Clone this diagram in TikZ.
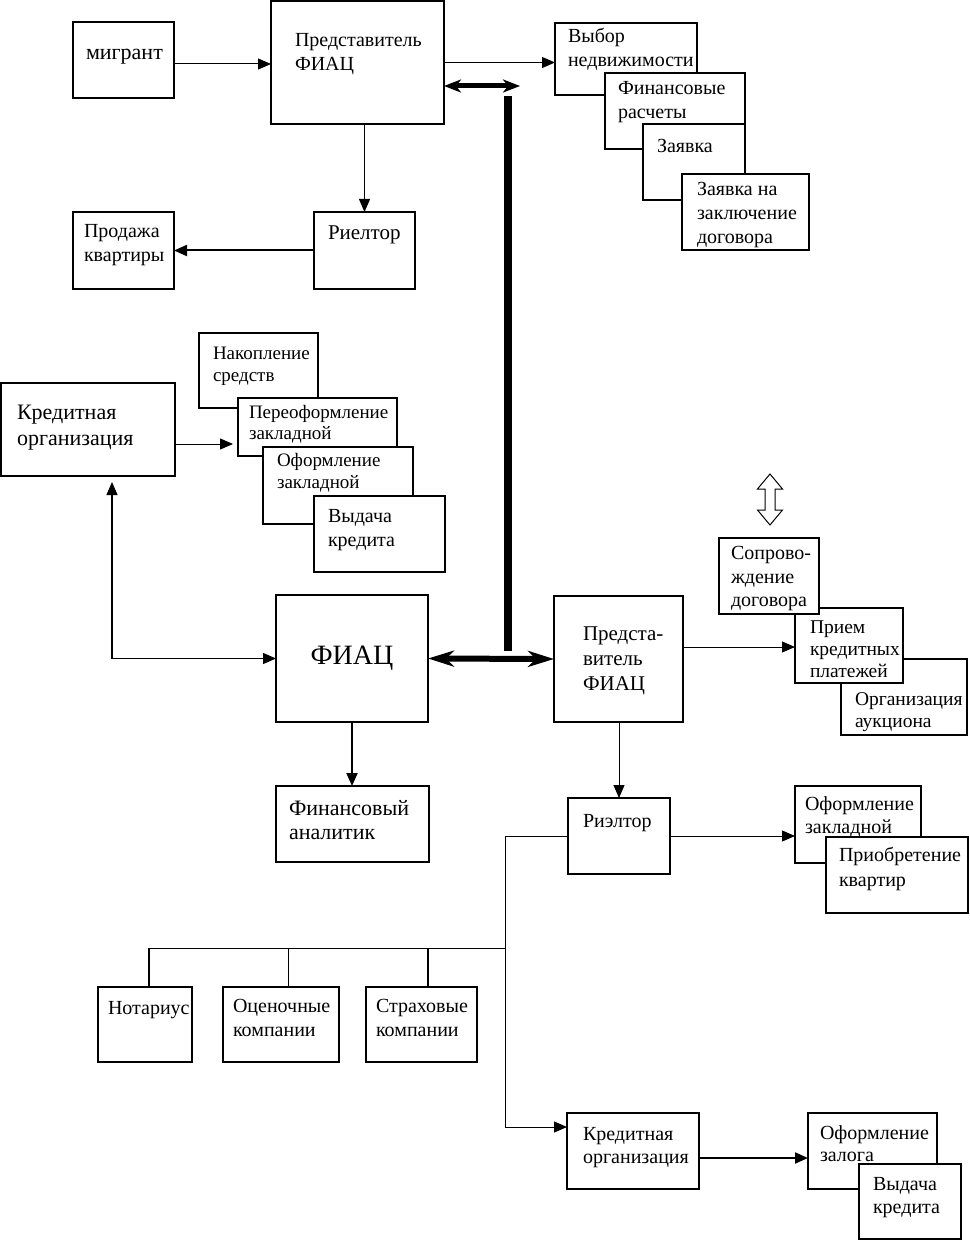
\documentclass[tikz,border=0pt]{standalone}
\usepackage{fontspec}
\setmainfont{Liberation Serif}
\usetikzlibrary{arrows.meta,calc}
\tikzset{
  bx/.style={draw, line width=1.3pt, fill=white, inner sep=0pt, outer sep=0pt, anchor=north west},
  txt/.style={inner sep=0pt, outer sep=0pt, anchor=north west, align=left, font=\fontsize{20}{24}\selectfont, execute at begin node=\strut},
  conn/.style={line width=1pt, -{Triangle[length=13pt,width=11pt]}},
  connb/.style={line width=2pt, -{Triangle[length=13pt,width=11pt]}},
  conntwo/.style={line width=1.2pt, {Triangle[length=13pt,width=11pt]}-{Triangle[length=13pt,width=11pt]}},
  plain/.style={line width=1pt},
  fat/.style={line width=6pt, {Stealth[length=26pt,width=16pt,inset=8pt]}-{Stealth[length=26pt,width=16pt,inset=8pt]}},
  fattop/.style={line width=5pt, {Stealth[length=17pt,width=13pt,inset=5pt]}-{Stealth[length=17pt,width=13pt,inset=5pt]}},
  bar/.style={line width=8pt},
  hollow/.style={line width=1pt, fill=white},
}
\newcommand\B[6][]{\node[bx,#1,minimum width={(#5-#3)*1pt},minimum height={(#6-#4)*1pt}] (#2) at (#3,#4) {};}
\newcommand\X[5][]{\node[txt,#1] (#2) at (#3,#4) {#5};}
\begin{document}
\begin{tikzpicture}[x=1pt,y=-1pt]
\useasboundingbox[fill=white] (0,0) rectangle (969,1241);

% ---- top group
\B[line width=1.6pt]{A}{73}{22}{174}{98}
\X[font=\fontsize{22}{26}\selectfont]{At}{86}{60-18.2}{мигрант}
\B{B}{271}{1}{444}{124}
\X{Bt}{295}{50-16.8}{Представитель\\ФИАЦ}
\B{C}{555}{23}{697}{95}
\X{Ct}{568}{45-16.8}{Выбор\\недвижимости}
\B{D}{605}{73}{745}{149}
\X{Dt}{618}{98-16.8}{Финансовые\\расчеты}
\B{E}{643}{124}{745}{200}
\X{Et}{657}{153-16.8}{Заявка}
\B[line width=1.8pt]{F}{682}{174}{809}{250}
\X{Ft}{697}{199-16.8}{Заявка на\\заключение\\договора}
\B{G}{314}{212}{415}{289}
\X[font=\fontsize{21}{24}\selectfont]{Gt}{328}{240-16.8}{Риелтор}
\B[line width=1.6pt]{H}{73}{212}{174}{289}
\X{Ht}{84}{241-16.8}{Продажа\\квартиры}

% ---- middle left
\B{I}{1}{383}{175}{476}
\X[font=\fontsize{22}{26}\selectfont]{It}{17}{423-18.2}{Кредитная\\организация}
\B{J}{199}{333}{318}{408}
\X[font=\fontsize{19}{22}\selectfont]{Jt}{213}{362-15.4}{Накопление\\средств}
\B{K}{238}{398}{397}{456}
\X[font=\fontsize{19}{21}\selectfont]{Kt}{249}{420-14.7}{Переоформление\\закладной}
\B{L}{263}{447}{413}{524}
\X[font=\fontsize{19}{22}\selectfont]{Lt}{277}{469-15.4}{Оформление\\закладной}
\B[line width=1.8pt]{M}{314}{496}{445}{572}
\X[font=\fontsize{20}{24}\selectfont]{Mt}{328}{526-16.8}{Выдача\\кредита}

\B{N}{276}{595}{428}{722}
\node[font=\fontsize{28}{32}\selectfont, anchor=base, inner sep=0pt] (Nt) at (352,664) {ФИАЦ};

% ---- middle right
\B{O}{554}{596}{683}{722}
\X[font=\fontsize{21}{25}\selectfont]{Ot}{583}{644-17.5}{Предста-\\витель\\ФИАЦ}
\B[line width=1.8pt]{R}{841}{659}{967}{735}
\X[font=\fontsize{19.5}{22}\selectfont]{Rt}{855}{708-15.4}{Организация\\аукциона}
\B{Q}{795}{608}{903}{683}
\X[font=\fontsize{19.5}{22}\selectfont]{Qt}{810}{636-15.4}{Прием\\кредитных\\платежей}
\B{P}{719}{538}{819}{614}
\X[font=\fontsize{20}{23.5}\selectfont]{Pt}{731}{563-16.45}{Сопрово-\\ждение\\договора}

\draw[hollow] (770,474) -- (782.5,489) -- (775,489) -- (775,510) -- (782.5,510) -- (770,525)
  -- (757.5,510) -- (765,510) -- (765,489) -- (757.5,489) -- cycle;

% ---- lower part
\B[line width=1.8pt]{T}{276}{786}{429}{862}
\X[font=\fontsize{22}{24}\selectfont]{Tt}{289}{817-16.8}{Финансовый\\аналитик}
\B{U}{568}{798}{670}{874}
\X{Ut}{583}{827-16.8}{Риэлтор}
\B{V}{795}{786}{921}{863}
\X[font=\fontsize{20}{23}\selectfont]{Vt}{805}{813-16.1}{Оформление\\закладной}
\B[line width=1.8pt]{W}{826}{837}{968}{913}
\X[font=\fontsize{20}{25}\selectfont]{Wt}{839}{865-17.5}{Приобретение\\квартир}

\B{X}{98}{987}{192}{1062}
\X{Xt}{108}{1014-16.8}{Нотариус}
\B{Y}{223}{987}{339}{1062}
\X{Yt}{233}{1016-16.8}{Оценочные\\компании}
\B{Z}{366}{987}{477}{1062}
\X{Zt}{376}{1016-16.8}{Страховые\\компании}

\B{AA}{567}{1113}{699}{1189}
\X[font=\fontsize{20}{23}\selectfont]{AAt}{583}{1143-16.1}{Кредитная\\организация}
\B{AB}{808}{1113}{937}{1189}
\X[font=\fontsize{20}{22}\selectfont]{ABt}{820}{1141-15.4}{Оформление\\залога}
\B[line width=1.8pt]{AC}{859}{1164}{961}{1239}
\X[font=\fontsize{20}{23}\selectfont]{ACt}{873}{1193-16.1}{Выдача\\кредита}

% ---- connectors
\draw[conn] ([yshift=-4pt]A.east) -- ([yshift=-4pt]A.east -| B.west);
\draw[conn] (B.east) -- (B.east -| C.west);
\draw[conn] (G.north |- B.south) -- (G.north);
\draw[connb] (G.west) -- (G.west -| H.east);

\coordinate (tA) at (520,86);
\draw[fattop] (B.east |- tA) -- (tA);
\coordinate (barT) at (508,96);
\coordinate (barB) at (508,651);
\draw[bar] (barT) -- (barB);
\draw[fat] (N.east) -- (O.west);

\draw[conntwo, shorten <=6pt] ([xshift=24pt]I.south) |- (N.west);
\draw[conn, shorten >=5pt] ([yshift=-14.5pt]I.east) -- ([yshift=-14.5pt]I.east -| K.west);
\draw[connb] (N.south) -- (N.south |- T.north);

\draw[conn] ([yshift=12pt]O.east) -- ([yshift=12pt]O.east -| Q.west);
\draw[conn] (O.south -| U.north) -- (U.north);
\draw[conn] (U.east) -- (U.east -| V.west);

\coordinate (jb) at (505,1127);
\draw[plain] (U.west) -| (jb);
\draw[conn] (jb) -- (jb -| AA.west);

\coordinate (bL) at (149,948);
\coordinate (bM) at (288,948);
\coordinate (bR) at (428,948);
\coordinate (bJ) at (505,948);
\draw[plain] (bL) -- (bJ);
\draw[line width=2pt] (bL) -- (bL |- X.north);
\draw[plain] (bM) -- (bM |- Y.north);
\draw[line width=2pt] (bR) -- (bR |- Z.north);

\draw[connb] ([yshift=-7pt]AA.east) -- ([yshift=-7pt]AA.east -| AB.west);
\end{tikzpicture}
\end{document}
